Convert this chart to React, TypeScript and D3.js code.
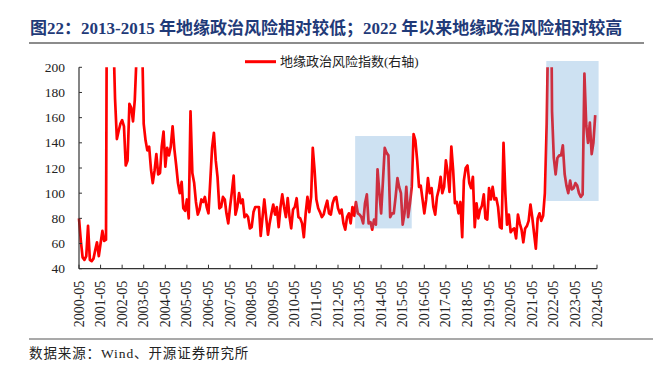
import React from "react";
import * as d3 from "d3";

// Geopolitical risk index, monthly, starting 2000-05
const startMonth = new Date(2000, 4, 1);
const gprValues: number[] = [
  80, 62, 49, 47, 50, 74, 47, 46, 48, 55, 61, 50, 60, 70, 62, 63, 480, 330, 260, 230,
  175, 143, 149, 155, 158, 153, 122, 126, 171, 168, 157, 174, 210, 280, 380, 230, 155, 142, 134, 137,
  119, 108, 118, 131, 115, 116, 137, 149, 121, 136, 130, 137, 153, 135, 122, 108, 100, 109, 88, 86,
  95, 80, 165, 116, 108, 93, 83, 87, 95, 93, 97, 89, 84, 110, 136, 148, 126, 113, 88, 89,
  97, 95, 84, 76, 89, 101, 114, 83, 89, 100, 92, 95, 81, 83, 81, 72, 73, 85, 89, 89,
  89, 66, 81, 95, 81, 67, 76, 84, 91, 83, 89, 73, 89, 99, 89, 81, 96, 81, 72, 87,
  89, 96, 81, 80, 76, 65, 84, 97, 85, 97, 136, 118, 95, 88, 85, 81, 83, 89, 94, 84,
  83, 92, 96, 97, 88, 84, 87, 76, 71, 81, 84, 76, 89, 82, 93, 84, 83, 81, 76, 92,
  99, 76, 77, 71, 79, 75, 119, 100, 84, 110, 136, 132, 130, 81, 84, 84, 97, 112, 105, 100,
  75, 84, 105, 81, 92, 105, 147, 142, 126, 105, 106, 95, 84, 95, 112, 100, 104, 89, 83, 97,
  103, 113, 100, 105, 126, 116, 101, 137, 118, 92, 93, 84, 93, 65, 110, 120, 122, 108, 104, 113,
  73, 92, 80, 87, 90, 99, 80, 79, 104, 95, 105, 95, 96, 89, 73, 72, 140, 100, 75, 83,
  69, 71, 72, 64, 83, 76, 71, 61, 72, 74, 78, 91, 81, 68, 56, 80, 84, 78, 82, 100,
  155, 250, 360, 165, 128, 115, 128, 130, 130, 138, 115, 106, 100, 110, 103, 104, 108, 106, 100, 97,
  99, 195, 154, 140, 156, 131, 140, 162,
];

const tickYears: number[] = d3.range(2000, 2025);
const yTicks: number[] = [40, 60, 80, 100, 120, 140, 160, 180, 200];

// highlighted periods: [start, end, low, high]
const boxStarts: Date[] = [new Date(2013, 1, 15), new Date(2021, 11, 25)];
const boxEnds: Date[] = [new Date(2015, 9, 1), new Date(2024, 4, 28)];
const boxLows: number[] = [72, 93.8];
const boxHighs: number[] = [145.4, 205];

const titleText = "图22：2013-2015 年地缘政治风险相对较低；2022 年以来地缘政治风险相对较高";
const legendText = "地缘政治风险指数(右轴)";
const sourceText = "数据来源：Wind、开源证券研究所";

const W = 653;
const H = 368;
const L = 79;
const R = 597;
const T = 67.3;
const B = 268.7;

const serif = "'Liberation Serif', 'Times New Roman', 'Noto Sans CJK SC', serif";
const cjk = "'Liberation Serif', 'Noto Sans CJK SC', serif";

export default function App() {
  const x = d3
    .scaleTime()
    .domain([new Date(2000, 4, 1), new Date(2024, 4, 1)])
    .range([L, R]);
  const y = d3.scaleLinear().domain([40, 200]).range([B, T]);

  const pts = gprValues.map((v, i) => ({ d: d3.timeMonth.offset(startMonth, i), v }));
  const line = d3
    .line<{ d: Date; v: number }>()
    .x((p) => x(p.d))
    .y((p) => y(p.v));

  return (
    <svg
      width={W}
      height={H}
      style={{ position: "absolute", left: 0, top: 0, background: "#fff" }}
    >
      <defs>
        <clipPath id="plotclip">
          <rect x={L - 5} y={T} width={R - L + 15} height={B - T + 20} />
        </clipPath>
      </defs>

      {/* title */}
      <text
        x={30}
        y={28}
        fontFamily={cjk}
        fontWeight="bold"
        fontSize={17}
        fill="#1f3a78"
        dominantBaseline="central"
      >
        {titleText}
      </text>
      <line x1={29} x2={644} y1={43} y2={43} stroke="#666" strokeWidth={1.5} />

      {/* line */}
      <path
        d={line(pts) || ""}
        fill="none"
        stroke="#ff0000"
        strokeWidth={2.7}
        strokeLinejoin="round"
        clipPath="url(#plotclip)"
      />

      {/* highlight boxes */}
      {boxStarts.map((s, i) => (
        <rect
          key={i}
          x={x(s)}
          y={y(boxHighs[i])}
          width={x(boxEnds[i]) - x(s)}
          height={y(boxLows[i]) - y(boxHighs[i])}
          fill="#5b9bd5"
          fillOpacity={0.3}
        />
      ))}

      {/* axes */}
      <line x1={L} x2={L} y1={T} y2={B} stroke="#333" strokeWidth={1.2} />
      <line x1={L} x2={R} y1={B} y2={B} stroke="#333" strokeWidth={1.2} />
      {yTicks.map((t) => (
        <g key={t}>
          <line x1={L} x2={L + 3} y1={y(t)} y2={y(t)} stroke="#333" strokeWidth={1} />
          <text
            x={65}
            y={y(t)}
            textAnchor="end"
            dominantBaseline="central"
            fontFamily={serif}
            fontSize={13.5}
            fill="#222"
          >
            {t}
          </text>
        </g>
      ))}
      {tickYears.map((yr) => {
        const xx = x(new Date(yr, 4, 1));
        return (
          <g key={yr}>
            <line x1={xx} x2={xx} y1={B} y2={B - 4} stroke="#333" strokeWidth={1} />
            <text
              transform={`translate(${xx},${B + 12}) rotate(-90)`}
              textAnchor="end"
              dominantBaseline="central"
              fontFamily={serif}
              fontSize={14}
              fill="#222"
            >
              {`${yr}-05`}
            </text>
          </g>
        );
      })}

      {/* legend */}
      <line x1={245} x2={276} y1={61.7} y2={61.7} stroke="#ff0000" strokeWidth={3} />
      <text
        x={280}
        y={61.7}
        dominantBaseline="central"
        fontFamily={cjk}
        fontSize={13}
        fill="#222"
      >
        {legendText}
      </text>

      {/* footer */}
      <line x1={29} x2={653} y1={339} y2={339} stroke="#555" strokeWidth={1.2} />
      <text
        x={29}
        y={353}
        dominantBaseline="central"
        fontFamily={cjk}
        fontSize={13.5}
        letterSpacing={0.9}
        fill="#222"
      >
        {sourceText}
      </text>
    </svg>
  );
}
